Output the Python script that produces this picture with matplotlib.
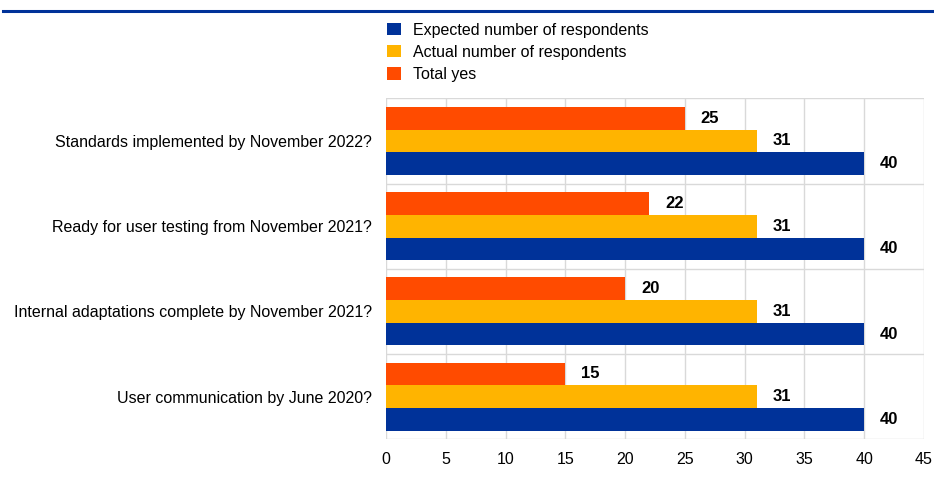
import numpy as np
import matplotlib.pyplot as plt
from matplotlib.lines import Line2D
from matplotlib.patches import Patch

plt.rcParams['font.family'] = ['Liberation Sans', 'DejaVu Sans']

questions = [
    "User communication by June 2020?",
    "Internal adaptations complete by November 2021?",
    "Ready for user testing from November 2021?",
    "Standards implemented by November 2022?",
]
expected = [40, 40, 40, 40]
actual = [31, 31, 31, 31]
total_yes = [15, 20, 22, 25]

series_names = ["Expected number of respondents", "Actual number of respondents", "Total yes"]
colors = ["#003299", "#FFB400", "#FF4B00"]

fig = plt.figure(figsize=(9.34, 4.79), dpi=100)
ax = fig.add_axes([0.4133, 0.0829, 0.576, 0.7119])

y = np.arange(len(questions))
h = 0.266
offsets = [-h, 0, h]
for vals, off, col in zip([expected, actual, total_yes], offsets, colors):
    ax.barh(y + off, vals, height=h, color=col, zorder=3)
    for yi, v in zip(y, vals):
        ax.annotate(str(v), (v, yi + off), xytext=(11.5, 0), textcoords="offset points",
                    ha="left", va="center", fontsize=12, fontweight="bold", color="#000000")

ax.set_xlim(0, 45)
ax.set_ylim(-0.5, len(questions) - 0.5)
ax.set_xticks(np.arange(0, 46, 5))
ax.set_yticks(y)
ax.set_yticklabels(questions)
ax.set_yticks(np.arange(-0.5, len(questions), 1), minor=True)
ax.grid(axis="x", color="#d9d9d9", linewidth=1, zorder=0)
ax.grid(axis="y", which="minor", color="#d9d9d9", linewidth=1, zorder=0)
ax.grid(axis="y", which="major", visible=False)
for s in ax.spines.values():
    s.set_visible(False)
ax.tick_params(axis="both", which="both", length=0, labelsize=11.5, colors="#000000")
ax.tick_params(axis="x", pad=9)
ax.tick_params(axis="y", pad=10)

handles = [Patch(facecolor=c, edgecolor="none") for c in colors]
fig.legend(handles, series_names, loc="upper left", bbox_to_anchor=(0.407, 0.966),
           frameon=False, fontsize=11.5, handlelength=0.875, handleheight=0.8,
           handletextpad=0.8, labelspacing=0.45, borderaxespad=0)

fig.add_artist(Line2D([0.003, 1.0], [0.977, 0.977], color="#003299", linewidth=2.2))

fig.savefig("out.png", dpi=100)
